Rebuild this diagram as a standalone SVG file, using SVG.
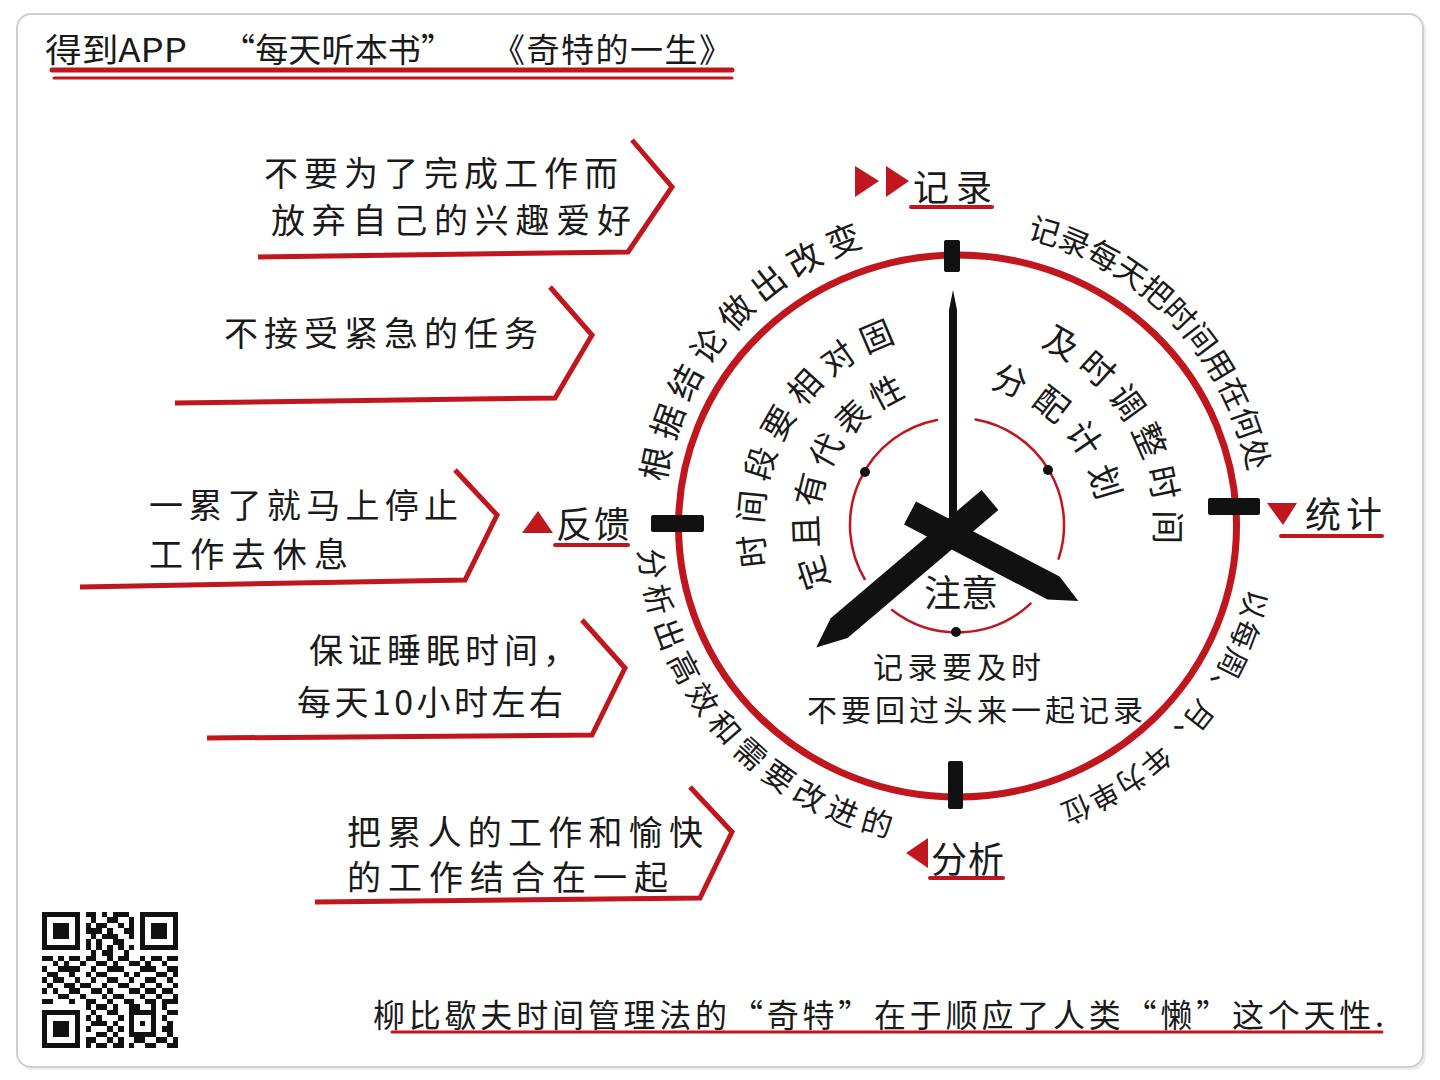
<svg xmlns="http://www.w3.org/2000/svg" width="1440" height="1080" viewBox="0 0 1440 1080">
<style>
.t{font-family:"Noto Sans CJK SC","Noto Sans",sans-serif;fill:#1a1a1a;}
.red{stroke:#c0161d;fill:none;stroke-linecap:round;stroke-linejoin:miter;}
.chev{stroke:#c0161d;fill:none;stroke-width:5;stroke-linejoin:miter;}
.tri{fill:#c0161d;}
.tick{fill:#111;}
.arc{font-family:"Noto Sans CJK SC","Noto Sans",sans-serif;fill:#1a1a1a;dominant-baseline:central;}
</style>
<defs>
<path id="pA" d="M647 526 A310 310 0 0 1 903.2 220.7"/>
<path id="pB" d="M992.1 218 A310 310 0 0 1 1266.4 507.1"/>
<path id="pC" d="M1267 531.4 A310 310 0 0 1 1005.5 832.2"/>
<path id="pD" d="M652 531.3 A305 305 0 0 0 909.3 827.2"/>
<path id="pL1" d="M776.9 630 A208 208 0 0 1 957 318"/>
<path id="pL2" d="M854.6 639.7 A153 153 0 0 1 962.3 373.1"/>
<path id="pR1" d="M1029.9 325.8 A213 213 0 0 1 1166.8 563"/>
<path id="pR2" d="M975.3 370.1 A157 157 0 0 1 1113.7 517"/>
</defs>
<rect width="1440" height="1080" fill="#ffffff"/>
<rect x="19" y="16" width="1407" height="1054" rx="14" fill="#ececec"/>
<rect x="17" y="14" width="1406" height="1053" rx="14" fill="#ffffff" stroke="#cfcfcf" stroke-width="2"/>

<g id="title">
<text class="t" font-size="33" x="45" y="62" textLength="142" lengthAdjust="spacingAndGlyphs">得到APP</text>
<text class="t" font-size="33" x="222" y="62" textLength="232" lengthAdjust="spacing">“每天听本书”</text>
<text class="t" font-size="33" x="492" y="62" textLength="240" lengthAdjust="spacing">《奇特的一生》</text>
<line class="red" x1="52" y1="70" x2="732" y2="70" stroke-width="5"/>
<line class="red" x1="54" y1="78" x2="732" y2="78" stroke-width="3"/>
</g>

<g id="panel1">
<path class="chev" d="M258 257 L628 252 L672 187 L632 140"/>
<text class="t" font-size="34" x="264" y="186" textLength="354" lengthAdjust="spacing">不要为了完成工作而</text>
<text class="t" font-size="34" x="271" y="233" textLength="360" lengthAdjust="spacing">放弃自己的兴趣爱好</text>
</g>
<g id="panel2">
<path class="chev" d="M175 403 L555 398 L592 335 L550 287"/>
<text class="t" font-size="34" x="224" y="346" textLength="314" lengthAdjust="spacing">不接受紧急的任务</text>
</g>
<g id="panel3">
<path class="chev" d="M80 587 L465 580 L497 515 L455 470"/>
<text class="t" font-size="34" x="149" y="518" textLength="309" lengthAdjust="spacing">一累了就马上停止</text>
<text class="t" font-size="34" x="149" y="567" textLength="199" lengthAdjust="spacing">工作去休息</text>
</g>
<g id="panel4">
<path class="chev" d="M207 738 L592 735 L625 668 L582 620"/>
<text class="t" font-size="34" x="309" y="663" textLength="268" lengthAdjust="spacing">保证睡眠时间，</text>
<text class="t" font-size="34" x="297" y="715" textLength="266" lengthAdjust="spacing">每天10小时左右</text>
</g>
<g id="panel5">
<path class="chev" d="M315 902 L700 898 L732 832 L690 787"/>
<text class="t" font-size="34" x="347" y="845" textLength="356" lengthAdjust="spacing">把累人的工作和愉快</text>
<text class="t" font-size="34" x="347" y="890" textLength="321" lengthAdjust="spacing">的工作结合在一起</text>
</g>

<g id="clock">
<ellipse cx="957.5" cy="526" rx="279" ry="271" fill="none" stroke="#c0161d" stroke-width="7"/>
<path class="red" stroke-width="2.5" d="M975.6 419.6 A107 107 0 0 1 1058.6 558.6"/>
<path class="red" stroke-width="2.5" d="M1030.6 603.6 A107 107 0 0 1 892 610"/>
<path class="red" stroke-width="2.5" d="M864.6 579 A107 107 0 0 1 937 419.9"/>
<circle cx="865" cy="472" r="5" fill="#111"/>
<circle cx="1048" cy="470" r="5" fill="#111"/>
<circle cx="956" cy="632" r="5" fill="#111"/>
<rect class="tick" x="944" y="240" width="16" height="32" rx="2"/>
<rect class="tick" x="1208" y="498" width="52" height="17" rx="2"/>
<rect class="tick" x="651" y="515" width="53" height="17" rx="2"/>
<rect class="tick" x="948" y="761" width="15" height="48" rx="2"/>
<polygon fill="#111" points="953,290 957,310 957,522 949,522 949,310"/>
<polygon fill="#111" transform="translate(990,500) rotate(139.65)" points="0,-13 198,-13 228,0 198,13 0,13"/>
<polygon fill="#111" transform="translate(910,513) rotate(27.6)" points="0,-13 162,-13 190,0 162,13 0,13"/>
</g>

<g id="label-record">
<polygon class="tri" points="855,166 879,181 855,197"/>
<polygon class="tri" points="886,166 909,181 886,197"/>
<text class="t" font-size="36" x="913" y="201" textLength="79" lengthAdjust="spacing">记录</text>
<line class="red" x1="911" y1="207" x2="992" y2="207" stroke-width="4"/>
</g>
<g id="label-stat">
<polygon class="tri" points="1267,503 1297,503 1283,525"/>
<text class="t" font-size="36" x="1305" y="528" textLength="77" lengthAdjust="spacing">统计</text>
<line class="red" x1="1281" y1="536" x2="1382" y2="536" stroke-width="4"/>
</g>
<g id="label-analyze">
<polygon class="tri" points="928,838 928,868 906,853"/>
<text class="t" font-size="36" x="931" y="873" textLength="73" lengthAdjust="spacing">分析</text>
<line class="red" x1="930" y1="878" x2="1003" y2="878" stroke-width="4"/>
</g>
<g id="label-feedback">
<polygon class="tri" points="522,533 553,533 538,511"/>
<text class="t" font-size="36" x="556" y="538" textLength="74" lengthAdjust="spacing">反馈</text>
<line class="red" x1="555" y1="545" x2="628" y2="545" stroke-width="4"/>
</g>

<g id="arc-texts">
<text class="arc" font-size="34"><textPath href="#pA" startOffset="50%" text-anchor="middle" textLength="340" lengthAdjust="spacing">根据结论做出改变</textPath></text>
<text class="arc" font-size="31"><textPath href="#pB" startOffset="50%" text-anchor="middle" textLength="355" lengthAdjust="spacing">记录每天把时间用在何处</textPath></text>
<text class="arc" font-size="29"><textPath href="#pC" startOffset="50%" text-anchor="middle" textLength="312" lengthAdjust="spacing">以每周、月、年为单位</textPath></text>
<text class="arc" font-size="31"><textPath href="#pD" startOffset="50%" text-anchor="middle" textLength="392" lengthAdjust="spacing">分析出高效和需要改进的</textPath></text>
</g>

<g id="inner-texts">
<text class="arc" font-size="33"><textPath href="#pL1" startOffset="50%" text-anchor="middle" textLength="301" lengthAdjust="spacing">时间段要相对固</textPath></text>
<text class="arc" font-size="33"><textPath href="#pL2" startOffset="50%" text-anchor="middle" textLength="247" lengthAdjust="spacing">定且有代表性</textPath></text>
<text class="arc" font-size="34"><textPath href="#pR1" startOffset="50%" text-anchor="middle" textLength="259" lengthAdjust="spacing">及时调整时间</textPath></text>
<text class="arc" font-size="34"><textPath href="#pR2" startOffset="50%" text-anchor="middle" textLength="180" lengthAdjust="spacing">分配计划</textPath></text>
</g>

<g id="note">
<text class="t" font-size="37" x="961" y="607" text-anchor="middle">注意</text>
<text class="t" font-size="30" x="873" y="678" textLength="168" lengthAdjust="spacing">记录要及时</text>
<text class="t" font-size="30" x="807" y="721" textLength="336" lengthAdjust="spacing">不要回过头来一起记录</text>
</g>

<g id="summary">
<text class="t" font-size="32" x="373" y="1027" textLength="1011" lengthAdjust="spacing">柳比歇夫时间管理法的“奇特”在于顺应了人类“懒”这个天性.</text>
<line class="red" x1="392" y1="1032" x2="1382" y2="1032" stroke-width="3"/>
</g>

<g id="qr" transform="translate(42,912) scale(5.44)" fill="#111" shape-rendering="crispEdges">
<path fill-rule="evenodd" d="M0 0h7v7h-7z M1 1h5v5h-5z M2 2h3v3h-3z M18 0h7v7h-7z M19 1h5v5h-5z M20 2h3v3h-3z M0 18h7v7h-7z M1 19h5v5h-5z M2 20h3v3h-3z"/>
<path d="M8 0h2v1h-2z M11 0h1v1h-1z M13 0h3v1h-3z M9 1h1v1h-1z M12 1h2v1h-2z M16 1h1v1h-1z M8 2h1v1h-1z M10 2h2v1h-2z M14 2h1v1h-1z M16 2h1v1h-1z M8 3h3v1h-3z M12 3h1v1h-1z M15 3h2v1h-2z M9 4h1v1h-1z M11 4h3v1h-3z M16 4h1v1h-1z M8 5h1v1h-1z M10 5h1v1h-1z M13 5h2v1h-2z M8 6h1v1h-1z M10 6h1v1h-1z M12 6h1v1h-1z M14 6h1v1h-1z M16 6h1v1h-1z M9 7h1v1h-1z M11 7h2v1h-2z M15 7h1v1h-1z M0 8h2v1h-2z M3 8h1v1h-1z M5 8h2v1h-2z M8 8h2v1h-2z M12 8h1v1h-1z M14 8h2v1h-2z M18 8h1v1h-1z M20 8h2v1h-2z M23 8h2v1h-2z M2 9h1v1h-1z M4 9h1v1h-1z M7 9h1v1h-1z M10 9h2v1h-2z M13 9h1v1h-1z M16 9h2v1h-2z M19 9h1v1h-1z M22 9h1v1h-1z M0 10h1v1h-1z M3 10h4v1h-4z M9 10h1v1h-1z M12 10h3v1h-3z M18 10h3v1h-3z M23 10h2v1h-2z M1 11h2v1h-2z M5 11h1v1h-1z M8 11h1v1h-1z M10 11h2v1h-2z M15 11h1v1h-1z M17 11h1v1h-1z M21 11h2v1h-2z M24 11h1v1h-1z M0 12h1v1h-1z M2 12h2v1h-2z M6 12h1v1h-1z M9 12h1v1h-1z M12 12h2v1h-2z M16 12h1v1h-1z M19 12h2v1h-2z M23 12h1v1h-1z M1 13h1v1h-1z M4 13h2v1h-2z M7 13h2v1h-2z M11 13h1v1h-1z M14 13h2v1h-2z M18 13h1v1h-1z M21 13h1v1h-1z M24 13h1v1h-1z M0 14h1v1h-1z M2 14h1v1h-1z M5 14h2v1h-2z M9 14h2v1h-2z M12 14h1v1h-1z M16 14h2v1h-2z M19 14h2v1h-2z M22 14h2v1h-2z M3 15h2v1h-2z M7 15h1v1h-1z M11 15h1v1h-1z M13 15h2v1h-2z M18 15h1v1h-1z M21 15h1v1h-1z M24 15h1v1h-1z M0 16h2v1h-2z M5 16h1v1h-1z M8 16h2v1h-2z M12 16h1v1h-1z M15 16h2v1h-2z M19 16h2v1h-2z M22 16h3v1h-3z M8 17h1v1h-1z M10 17h2v1h-2z M13 17h1v1h-1z M16 17h2v1h-2z M20 17h1v1h-1z M22 17h1v1h-1z M9 18h1v1h-1z M12 18h2v1h-2z M16 18h5v1h-5z M23 18h2v1h-2z M8 19h1v1h-1z M10 19h1v1h-1z M14 19h1v1h-1z M16 19h1v1h-1z M20 19h1v1h-1z M22 19h1v1h-1z M9 20h3v1h-3z M13 20h1v1h-1z M16 20h1v1h-1z M18 20h1v1h-1z M20 20h1v1h-1z M23 20h1v1h-1z M8 21h1v1h-1z M12 21h1v1h-1z M14 21h1v1h-1z M16 21h1v1h-1z M20 21h1v1h-1z M22 21h2v1h-2z M10 22h2v1h-2z M13 22h1v1h-1z M16 22h5v1h-5z M23 22h1v1h-1z M8 23h2v1h-2z M12 23h1v1h-1z M14 23h1v1h-1z M17 23h2v1h-2z M21 23h2v1h-2z M24 23h1v1h-1z M8 24h1v1h-1z M10 24h2v1h-2z M13 24h2v1h-2z M16 24h1v1h-1z M19 24h2v1h-2z M23 24h2v1h-2z"/>
</g>
</svg>
